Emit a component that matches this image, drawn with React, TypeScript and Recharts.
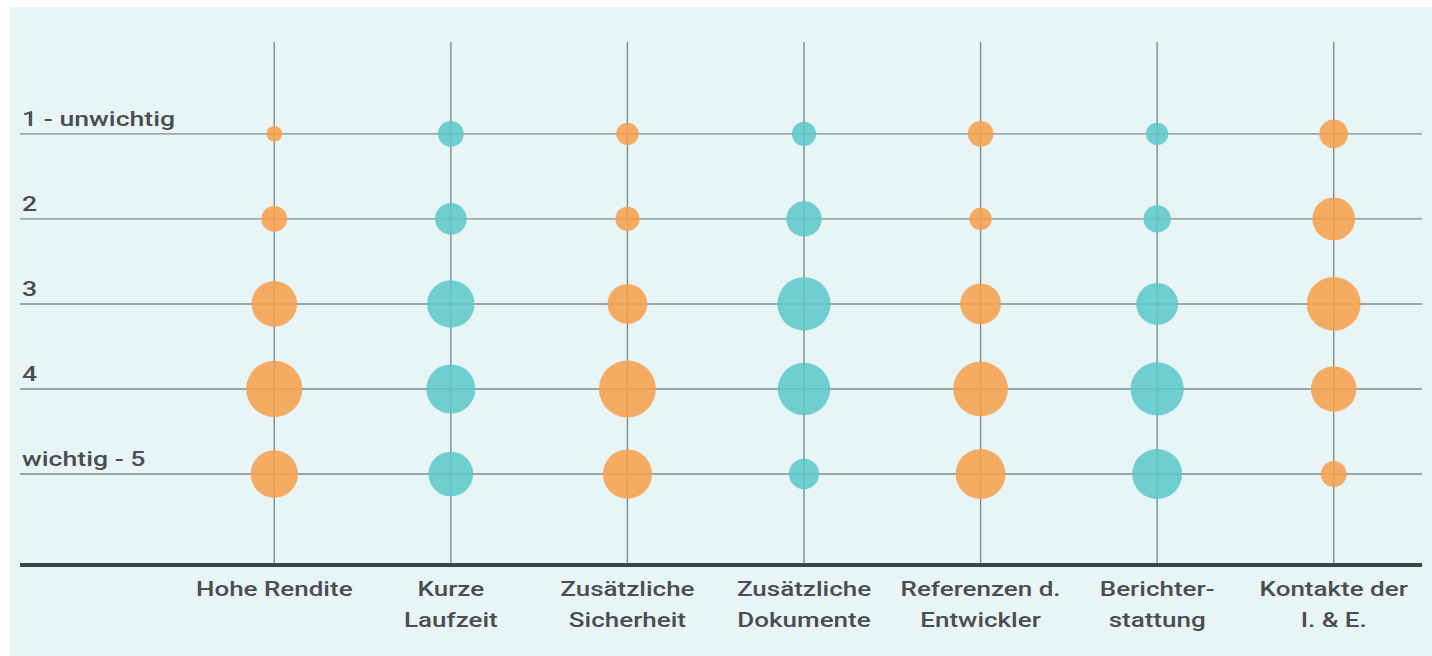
import React from 'react';
import { ScatterChart, Scatter, XAxis, YAxis, ZAxis, ReferenceLine } from 'recharts';

// Categories (x) and importance levels (y)
const categories = [
  'Hohe Rendite',
  'Kurze Laufzeit',
  'Zusätzliche Sicherheit',
  'Zusätzliche Dokumente',
  'Referenzen d. Entwickler',
  'Berichterstattung',
  'Kontakte der I. & E.',
];
const categoryLines = [
  ['Hohe Rendite'],
  ['Kurze', 'Laufzeit'],
  ['Zusätzliche', 'Sicherheit'],
  ['Zusätzliche', 'Dokumente'],
  ['Referenzen d.', 'Entwickler'],
  ['Berichter-', 'stattung'],
  ['Kontakte der', 'I. & E.'],
];
const categoryIndex = [0, 1, 2, 3, 4, 5, 6];
const levels = [1, 2, 3, 4, 5];
const levelLabels = ['1 - unwichtig', '2', '3', '4', 'wichtig - 5'];

// Share of answers (%) per level 1..5 for each category
const hoheRendite = [3, 8, 25, 38, 27];
const kurzeLaufzeit = [8, 12, 27, 29, 24];
const zusSicherheit = [6, 7, 19, 39, 29];
const zusDokumente = [7, 15, 34, 33, 11];
const referenzen = [8, 6, 20, 36, 30];
const berichterstattung = [6, 9, 21, 34, 30];
const kontakte = [10, 22, 35, 25, 8];

const seriesValues = [
  hoheRendite,
  kurzeLaufzeit,
  zusSicherheit,
  zusDokumente,
  referenzen,
  berichterstattung,
  kontakte,
];

const ORANGE = '#f7a04e';
const TEAL = '#5cc8cb';
const GRID = '#808a8c';

const buildPoints = (indices: number[]) =>
  indices.flatMap((ci) =>
    levels.map((lv, li) => ({ x: ci, y: lv, z: seriesValues[ci][li], cat: categories[ci] }))
  );

const orangeData = buildPoints([0, 2, 4, 6]);
const tealData = buildPoints([1, 3, 5]);

const W = 1432;
const H = 656;
const SX = 1.3;

const Bubble = (color: string) => (props: any) => {
  const { cx, cy, size, width } = props;
  const r = size != null ? Math.sqrt(size / Math.PI) : (width || 0) / 2;
  return <circle cx={cx} cy={cy} r={r} fill={color} fillOpacity={0.88} />;
};

const XTick = (props: any) => {
  const { x, y, payload } = props;
  const lines = categoryLines[payload.value] || [];
  return (
    <g>
      {lines.map((ln, i) => (
        <text
          key={i}
          transform={`translate(${x},${y + 31 + i * 31}) scale(${SX},1)`}
          textAnchor="middle"
          fontFamily="Roboto"
          fontWeight={500}
          fontSize={20}
          fill="#4a4e50"
        >
          {ln}
        </text>
      ))}
    </g>
  );
};

const YTick = (props: any) => {
  const { y, payload } = props;
  const idx = levels.indexOf(payload.value);
  return (
    <text
      transform={`translate(22,${y - 8}) scale(${SX},1)`}
      textAnchor="start"
      fontFamily="Roboto"
      fontWeight={500}
      fontSize={20.5}
      fill="#4a4e50"
    >
      {levelLabels[idx]}
    </text>
  );
};

export default function App() {
  return (
    <div style={{ position: 'absolute', left: 0, top: 0, width: W, height: H, background: '#ffffff' }}>
      <div style={{ position: 'absolute', left: 10, top: 7, width: 1422, height: 649, background: '#e8f5f7' }} />
      <div style={{ position: 'absolute', left: 0, top: 0 }}>
        <ScatterChart width={W} height={H} margin={{ top: 42, right: 10, bottom: 0, left: 19 }}>
          <XAxis
            type="number"
            dataKey="x"
            domain={[-1.44, 6.5]}
            ticks={categoryIndex}
            interval={0}
            allowDataOverflow
            height={91}
            tickLine={false}
            tickSize={0}
            tickMargin={0}
            axisLine={{ stroke: '#38464b', strokeWidth: 4 }}
            tick={<XTick />}
          />
          <YAxis
            type="number"
            dataKey="y"
            reversed
            domain={[-0.08, 6.07]}
            ticks={levels}
            interval={0}
            allowDataOverflow
            width={1}
            axisLine={false}
            tickLine={false}
            tick={<YTick />}
          />
          <ZAxis type="number" dataKey="z" domain={[0, 40]} range={[0, 2616]} />
          {levels.map((v) => (
            <ReferenceLine key={'h' + v} y={v} stroke={GRID} strokeWidth={1.4} ifOverflow="visible" />
          ))}
          {categoryIndex.map((v) => (
            <ReferenceLine key={'v' + v} x={v} stroke={GRID} strokeWidth={1.4} ifOverflow="visible" />
          ))}
          <Scatter data={orangeData} fill={ORANGE} shape={Bubble(ORANGE)} isAnimationActive={false} />
          <Scatter data={tealData} fill={TEAL} shape={Bubble(TEAL)} isAnimationActive={false} />
        </ScatterChart>
      </div>
    </div>
  );
}
